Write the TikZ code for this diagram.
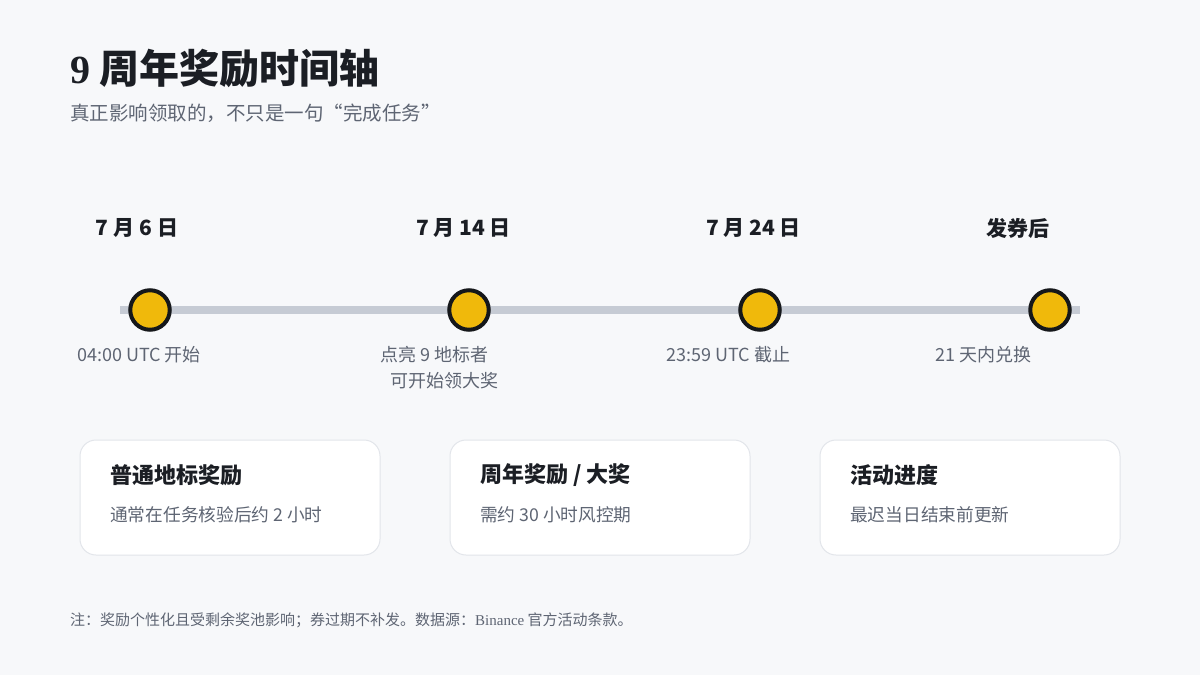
\documentclass[tikz,border=0pt]{standalone}
\usepackage{fontspec}
\setmainfont{Liberation Serif}
\newfontfamily\cjk{Noto Sans CJK SC}
\definecolor{bg}{HTML}{F7F8FA}
\definecolor{ink}{HTML}{1B1E24}
\definecolor{muted}{HTML}{5E6573}
\definecolor{track}{HTML}{C6CBD4}
\definecolor{gold}{HTML}{F0B90B}
\definecolor{ring}{HTML}{15171A}
\definecolor{cardline}{HTML}{E2E5EA}
\begin{document}
\begin{tikzpicture}[x=1pt,y=-1pt,
  dot/.style={circle,fill=gold,draw=ring,line width=4pt,minimum size=39.5pt,inner sep=0pt},
  datelbl/.style={font=\cjk\bfseries\fontsize{21}{25}\selectfont,text=ink,inner sep=0pt},
  sublbl/.style={font=\cjk\fontsize{18}{21}\selectfont,text=muted,inner sep=0pt},
  card/.style={draw=cardline,line width=1pt,fill=white,rounded corners=16pt,minimum width=300pt,minimum height=115pt,inner sep=0pt},
  cardtitle/.style={font=\cjk\bfseries\fontsize{22}{26}\selectfont,text=ink,anchor=west,inner sep=0pt},
  cardtext/.style={font=\cjk\fontsize{17.7}{21}\selectfont,text=muted,anchor=west,inner sep=0pt},
]
\fill[bg] (0,0) rectangle (1200,675);
\useasboundingbox (0,0) rectangle (1200,675);

% title
\node[anchor=west,inner sep=0pt,text=ink] (title) at (70,68)
  {\fontsize{40}{46}\selectfont\bfseries 9\hspace{9pt}{\cjk\bfseries 周年奖励时间轴}};
\node[anchor=west,inner sep=0pt,text=muted,font=\cjk\fontsize{19.5}{23}\selectfont] (subtitle) at (70,113)
  {真正影响领取的，不只是一句“完成任务”};

% track
\coordinate (tstart) at (120,310);
\coordinate (tend) at (1080,310);
\draw[track,line width=8pt] (tstart) -- (tend);

% dots
\node[dot] (d1) at (150,310) {};
\node[dot] (d2) at (469,310) {};
\node[dot] (d3) at (760,310) {};
\node[dot] (d4) at (1050,310) {};

% date labels
\node[datelbl] (l1) at (137,228) {7 月 6 日};
\node[datelbl] (l2) at (463.5,228) {7 月 14 日};
\node[datelbl] (l3) at (753.5,228) {7 月 24 日};
\node[datelbl] (l4) at (1018,228) {发券后};

% sub labels
\node[sublbl] (s1) at (139,355) {04:00 UTC 开始};
\node[sublbl] (s2a) at (434.5,355) {点亮 9 地标者};
\node[sublbl] (s2b) at (444,381) {可开始领大奖};
\node[sublbl] (s3) at (728.5,355) {23:59 UTC 截止};
\node[sublbl] (s4) at (983.5,355) {21 天内兑换};

% cards
\node[card] (c1) at (230,497.5) {};
\node[card] (c2) at (600,497.5) {};
\node[card] (c3) at (970,497.5) {};
\node[cardtitle] (c1t) at (110,475) {普通地标奖励};
\node[cardtext] (c1s) at (110,514.5) {通常在任务核验后约 2 小时};
\node[cardtitle] (c2t) at (480,475) {周年奖励 / 大奖};
\node[cardtext] (c2s) at (480,514.5) {需约 30 小时风控期};
\node[cardtitle] (c3t) at (850,475) {活动进度};
\node[cardtext] (c3s) at (850,514.5) {最迟当日结束前更新};

% footnote
\node[anchor=west,inner sep=0pt,text=muted,font=\cjk\fontsize{15}{18}\selectfont] (note) at (70,620)
  {注：奖励个性化且受剩余奖池影响；券过期不补发。数据源：{\rmfamily Binance} 官方活动条款。};
\end{tikzpicture}
\end{document}
